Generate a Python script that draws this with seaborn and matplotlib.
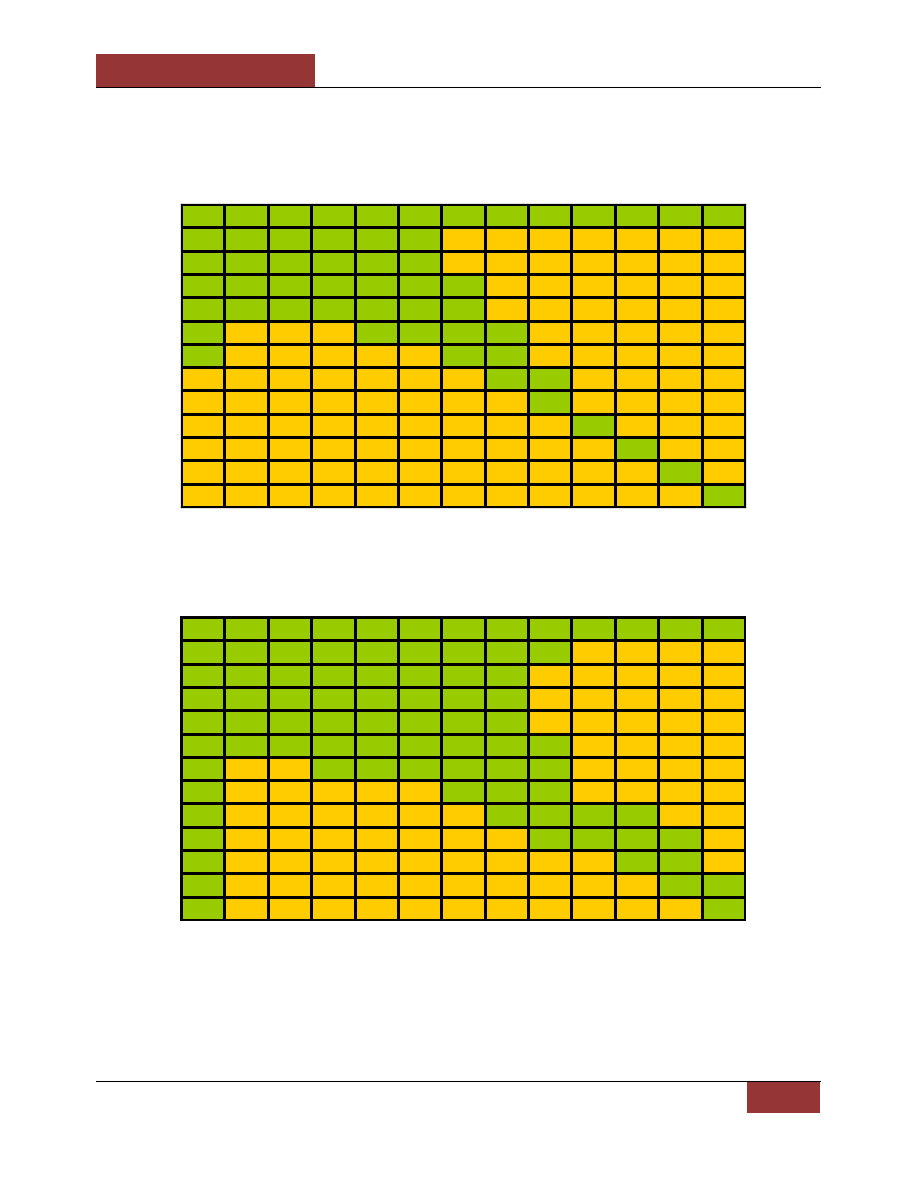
import numpy as np
import matplotlib
matplotlib.use("Agg")
import matplotlib.pyplot as plt
from matplotlib.colors import ListedColormap
from matplotlib.patches import Rectangle
from matplotlib.lines import Line2D
import seaborn as sns

# G = green cell, Y = yellow cell
grid1_rows = [
    "GGGGGGGGGGGGG",
    "GGGGGGYYYYYYY",
    "GGGGGGYYYYYYY",
    "GGGGGGGYYYYYY",
    "GGGGGGGYYYYYY",
    "GYYYGGGGYYYYY",
    "GYYYYYGGYYYYY",
    "YYYYYYYGGYYYY",
    "YYYYYYYYGYYYY",
    "YYYYYYYYYGYYY",
    "YYYYYYYYYYGYY",
    "YYYYYYYYYYYGY",
    "YYYYYYYYYYYYG",
]
grid2_rows = [
    "GGGGGGGGGGGGG",
    "GGGGGGGGGYYYY",
    "GGGGGGGGYYYYY",
    "GGGGGGGGYYYYY",
    "GGGGGGGGYYYYY",
    "GGGGGGGGGYYYY",
    "GYYGGGGGGYYYY",
    "GYYYYYGGGYYYY",
    "GYYYYYYGGGGYY",
    "GYYYYYYYGGGGY",
    "GYYYYYYYYYGGY",
    "GYYYYYYYYYYGG",
    "GYYYYYYYYYYYG",
]

GREEN = "#99CC00"
YELLOW = "#FFCC00"
RED = "#963535"

def to_matrix(rows):
    return np.array([[1 if c == "G" else 0 for c in r] for r in rows])

W, H = 918, 1188
fig = plt.figure(figsize=(W / 100, H / 100), dpi=100)
fig.patch.set_facecolor("white")

cmap = ListedColormap([YELLOW, GREEN])

def add_grid(rows, top_px, outer_lw):
    left, right, bottom_px = 181, 745, top_px + 303
    ax = fig.add_axes([left / W, 1 - bottom_px / H, (right - left) / W, 303 / H])
    sns.heatmap(to_matrix(rows), ax=ax, cmap=cmap, vmin=0, vmax=1, cbar=False,
                linewidths=0.75, linecolor="black", square=False,
                xticklabels=False, yticklabels=False)
    for s in ax.spines.values():
        s.set_visible(True)
        s.set_color("black")
        s.set_linewidth(outer_lw)
    ax.tick_params(left=False, bottom=False)
    return ax

add_grid(grid1_rows, 204, 0.9)
add_grid(grid2_rows, 617, 1.4)

# header decoration
fig.patches.append(Rectangle((96 / W, 1 - 87 / H), (315 - 96) / W, 33 / H,
                             transform=fig.transFigure, facecolor=RED, edgecolor="none"))
fig.lines.append(Line2D([96 / W, 820 / W], [1 - 86.5 / H, 1 - 86.5 / H],
                        transform=fig.transFigure, color="black", linewidth=0.75))
# footer decoration
fig.lines.append(Line2D([96 / W, 820 / W], [1 - 1081 / H, 1 - 1081 / H],
                        transform=fig.transFigure, color="black", linewidth=0.75))
fig.patches.append(Rectangle((747 / W, 1 - 1113 / H), (820 - 747) / W, 32 / H,
                             transform=fig.transFigure, facecolor=RED, edgecolor="none"))

fig.savefig("out.png", dpi=100)
